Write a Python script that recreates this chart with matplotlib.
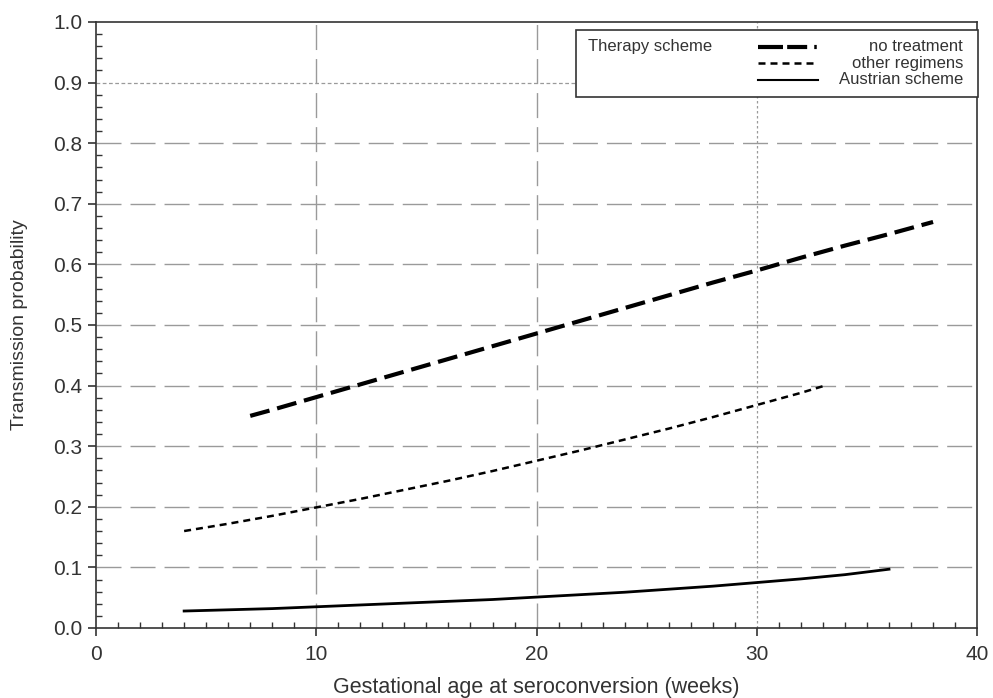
import matplotlib
matplotlib.use("Agg")
import matplotlib.pyplot as plt
from matplotlib.ticker import MultipleLocator
from matplotlib.patches import Rectangle
from matplotlib.lines import Line2D

plt.rcParams['font.family'] = ['Liberation Sans', 'DejaVu Sans']

# Data
weeks_none = [7, 8, 10, 12, 14, 16, 18, 20, 22, 24, 26, 28, 30, 32, 34, 36, 38]
prob_none = [0.350, 0.360, 0.381, 0.402, 0.423, 0.444, 0.465, 0.486, 0.507,
             0.528, 0.549, 0.570, 0.590, 0.611, 0.631, 0.650, 0.670]

weeks_other = [4, 6, 8, 10, 12, 14, 16, 18, 20, 22, 24, 26, 28, 30, 32, 33]
prob_other = [0.160, 0.172, 0.185, 0.199, 0.213, 0.228, 0.243, 0.259, 0.276,
              0.293, 0.311, 0.329, 0.348, 0.368, 0.388, 0.399]

weeks_aus = [4, 6, 8, 10, 12, 14, 16, 18, 20, 22, 24, 26, 28, 30, 32, 34, 36]
prob_aus = [0.028, 0.030, 0.032, 0.035, 0.038, 0.041, 0.044, 0.047, 0.051,
            0.055, 0.059, 0.064, 0.069, 0.075, 0.081, 0.088, 0.097]

series_labels = ["no treatment", "other regimens", "Austrian scheme"]
legend_title = "Therapy scheme"

x_ticks = [0, 10, 20, 30, 40]
y_ticks = [0.0, 0.1, 0.2, 0.3, 0.4, 0.5, 0.6, 0.7, 0.8, 0.9, 1.0]

fig = plt.figure(figsize=(9.93, 6.98), dpi=100)
ax = fig.add_axes([0.0967, 0.1003, 0.8873, 0.8682])

grid_col = '#9a9a9a'
dash = (0, (18, 6.5))
for yv in y_ticks[1:-1]:
    if abs(yv - 0.9) < 1e-9:
        ax.axhline(yv, color=grid_col, lw=0.9, ls=(0, (3, 2)), zorder=1)
    else:
        ax.axhline(yv, color=grid_col, lw=1.0, ls=dash, zorder=1)
for xv in x_ticks[1:-1]:
    if xv == 30:
        ax.axvline(xv, color=grid_col, lw=0.9, ls=(0, (2, 2)), zorder=1)
    else:
        ax.axvline(xv, color=grid_col, lw=1.0, ls=dash, zorder=1)

ax.plot(weeks_none, prob_none, color='black', lw=3.0, ls=(0, (4.8, 1.9)),
        dash_capstyle='butt', zorder=3)
ax.plot(weeks_other, prob_other, color='black', lw=1.8, ls=(0, (2.8, 2.0)),
        dash_capstyle='butt', zorder=3)
ax.plot(weeks_aus, prob_aus, color='black', lw=2.0, ls='-', zorder=3)

ax.set_xlim(0, 40)
ax.set_ylim(0, 1.0)
ax.set_xticks(x_ticks)
ax.set_yticks(y_ticks)
ax.set_yticklabels([f"{v:.1f}" for v in y_ticks])
ax.xaxis.set_minor_locator(MultipleLocator(1))
ax.yaxis.set_minor_locator(MultipleLocator(0.02))
ax.tick_params(axis='both', which='major', direction='out', length=6, width=1.2,
               labelsize=15, colors='#333333', labelcolor='#333333', pad=4)
ax.tick_params(axis='both', which='minor', direction='in', length=4, width=1.0,
               colors='#333333')
ax.tick_params(axis='x', which='major', pad=6)
for s in ax.spines.values():
    s.set_color('#333333')
    s.set_linewidth(1.2)

ax.set_xlabel("Gestational age at seroconversion (weeks)", fontsize=15.5,
              color='#333333', va='center')
ax.xaxis.set_label_coords(0.5, (628 - 688) / 606)
ax.set_ylabel("Transmission probability", fontsize=14, color='#333333', va='center')
ax.yaxis.set_label_coords((19 - 96) / 881, 0.5)

# Custom legend box (figure pixel coordinates -> axes fraction)
def fx(px):
    return (px - 96) / (977 - 96)

def fy(py):
    return (628 - py) / (628 - 22)

ax.add_patch(Rectangle((fx(576), fy(97)), fx(978) - fx(576), fy(30) - fy(97),
                       transform=ax.transAxes, facecolor='white', edgecolor='#333333',
                       lw=1.2, zorder=5, clip_on=False))
ax.text(fx(588), fy(47), legend_title, transform=ax.transAxes, fontsize=12,
        color='#333333', va='center', ha='left', zorder=6)
row_y = [47, 63.5, 80]
styles = [dict(lw=3.0, ls=(0, (6, 1, 4.8, 1.7, 0.6, 5))),
          dict(lw=1.8, ls=(0, (2.8, 2.0))),
          dict(lw=1.5, ls='-')]
for lab, ry, st in zip(series_labels, row_y, styles):
    ax.add_line(Line2D([fx(758), fx(818)], [fy(ry), fy(ry)], transform=ax.transAxes,
                       color='black', zorder=6, clip_on=False,
                       dash_capstyle='butt', **st))
    ax.text(fx(963), fy(ry), lab, transform=ax.transAxes, fontsize=12,
            color='#333333', va='center', ha='right', zorder=6)

fig.savefig("out.png", dpi=100)
